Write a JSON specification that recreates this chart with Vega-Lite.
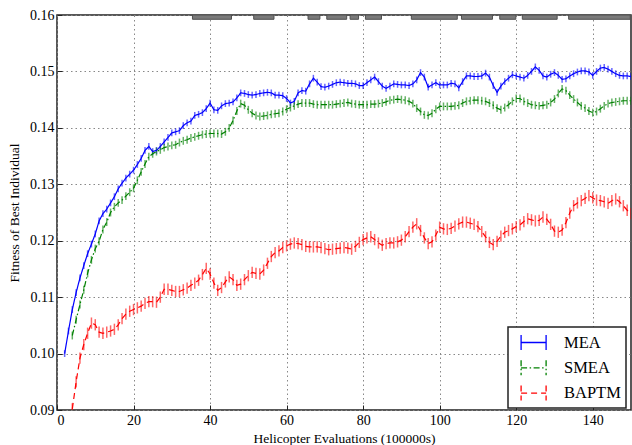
{
"$schema":"https://vega.github.io/schema/vega-lite/v6.json",
"width":574,"height":395,
"autosize":"none",
"padding":{"left":57,"top":15,"right":1,"bottom":35},
"background":"white",
"datasets":{
"sig":[{"a":35.4,"b":45.6},{"a":51.4,"b":56.7},{"a":65.6,"b":68.7},{"a":70.5,"b":75.7},{"a":76.6,"b":78.8},{"a":80.6,"b":84.8},{"a":92.6,"b":104.6},{"a":105.7,"b":113.8},{"a":115.7,"b":119.9},{"a":121.6,"b":130.7},{"a":133.7,"b":149.8}],
"runs":[
{"s":"MEA","x":2,"y":0.1000,"e":6e-4},{"s":"MEA","x":3,"y":0.1040,"e":6e-4},{"s":"MEA","x":4,"y":0.1078,"e":6e-4},{"s":"MEA","x":5,"y":0.1108,"e":6e-4},{"s":"MEA","x":6,"y":0.1134,"e":6e-4},{"s":"MEA","x":7,"y":0.1156,"e":6e-4},{"s":"MEA","x":8,"y":0.1177,"e":6e-4},{"s":"MEA","x":9,"y":0.1194,"e":6e-4},{"s":"MEA","x":10,"y":0.1212,"e":6e-4},
{"s":"MEA","x":11,"y":0.1235,"e":6e-4},{"s":"MEA","x":12,"y":0.1248,"e":6e-4},{"s":"MEA","x":13,"y":0.1256,"e":6e-4},{"s":"MEA","x":14,"y":0.1267,"e":6e-4},{"s":"MEA","x":15,"y":0.1278,"e":6e-4},{"s":"MEA","x":16,"y":0.1292,"e":6e-4},{"s":"MEA","x":17,"y":0.1302,"e":6e-4},{"s":"MEA","x":18,"y":0.1311,"e":6e-4},{"s":"MEA","x":19,"y":0.1318,"e":6e-4},{"s":"MEA","x":20,"y":0.1325,"e":6e-4},
{"s":"MEA","x":21,"y":0.1335,"e":6e-4},{"s":"MEA","x":22,"y":0.1346,"e":6e-4},{"s":"MEA","x":23,"y":0.1360,"e":6e-4},{"s":"MEA","x":24,"y":0.1367,"e":6e-4},{"s":"MEA","x":25,"y":0.1358,"e":6e-4},{"s":"MEA","x":26,"y":0.1360,"e":6e-4},{"s":"MEA","x":27,"y":0.1367,"e":6e-4},{"s":"MEA","x":28,"y":0.1375,"e":6e-4},{"s":"MEA","x":29,"y":0.1383,"e":6e-4},{"s":"MEA","x":30,"y":0.1391,"e":6e-4},
{"s":"MEA","x":31,"y":0.1393,"e":6e-4},{"s":"MEA","x":32,"y":0.1395,"e":6e-4},{"s":"MEA","x":33,"y":0.1404,"e":6e-4},{"s":"MEA","x":34,"y":0.1409,"e":6e-4},{"s":"MEA","x":35,"y":0.1412,"e":6e-4},{"s":"MEA","x":36,"y":0.1422,"e":6e-4},{"s":"MEA","x":37,"y":0.1424,"e":6e-4},{"s":"MEA","x":38,"y":0.1427,"e":6e-4},{"s":"MEA","x":39,"y":0.1434,"e":6e-4},{"s":"MEA","x":40,"y":0.1444,"e":6e-4},
{"s":"MEA","x":41,"y":0.1432,"e":6e-4},{"s":"MEA","x":42,"y":0.1431,"e":6e-4},{"s":"MEA","x":43,"y":0.1439,"e":6e-4},{"s":"MEA","x":44,"y":0.1443,"e":6e-4},{"s":"MEA","x":45,"y":0.1444,"e":6e-4},{"s":"MEA","x":46,"y":0.1446,"e":6e-4},{"s":"MEA","x":47,"y":0.1453,"e":6e-4},{"s":"MEA","x":48,"y":0.1462,"e":6e-4},{"s":"MEA","x":49,"y":0.1461,"e":6e-4},{"s":"MEA","x":50,"y":0.1459,"e":6e-4},
{"s":"MEA","x":51,"y":0.1458,"e":6e-4},{"s":"MEA","x":52,"y":0.1459,"e":6e-4},{"s":"MEA","x":53,"y":0.1461,"e":6e-4},{"s":"MEA","x":54,"y":0.1462,"e":6e-4},{"s":"MEA","x":55,"y":0.1463,"e":6e-4},{"s":"MEA","x":56,"y":0.1462,"e":6e-4},{"s":"MEA","x":57,"y":0.1458,"e":6e-4},{"s":"MEA","x":58,"y":0.1458,"e":6e-4},{"s":"MEA","x":59,"y":0.1457,"e":6e-4},{"s":"MEA","x":60,"y":0.1452,"e":6e-4},
{"s":"MEA","x":61,"y":0.1444,"e":6e-4},{"s":"MEA","x":62,"y":0.1447,"e":6e-4},{"s":"MEA","x":63,"y":0.1462,"e":6e-4},{"s":"MEA","x":64,"y":0.1466,"e":6e-4},{"s":"MEA","x":65,"y":0.1465,"e":6e-4},{"s":"MEA","x":66,"y":0.1478,"e":6e-4},{"s":"MEA","x":67,"y":0.1488,"e":6e-4},{"s":"MEA","x":68,"y":0.1481,"e":6e-4},{"s":"MEA","x":69,"y":0.1473,"e":6e-4},{"s":"MEA","x":70,"y":0.1472,"e":6e-4},
{"s":"MEA","x":71,"y":0.1474,"e":6e-4},{"s":"MEA","x":72,"y":0.1477,"e":6e-4},{"s":"MEA","x":73,"y":0.1480,"e":6e-4},{"s":"MEA","x":74,"y":0.1481,"e":6e-4},{"s":"MEA","x":75,"y":0.1480,"e":6e-4},{"s":"MEA","x":76,"y":0.1479,"e":6e-4},{"s":"MEA","x":77,"y":0.1479,"e":6e-4},{"s":"MEA","x":78,"y":0.1478,"e":6e-4},{"s":"MEA","x":79,"y":0.1475,"e":6e-4},{"s":"MEA","x":80,"y":0.1475,"e":6e-4},
{"s":"MEA","x":81,"y":0.1480,"e":6e-4},{"s":"MEA","x":82,"y":0.1485,"e":6e-4},{"s":"MEA","x":83,"y":0.1490,"e":6e-4},{"s":"MEA","x":84,"y":0.1482,"e":6e-4},{"s":"MEA","x":85,"y":0.1474,"e":6e-4},{"s":"MEA","x":86,"y":0.1470,"e":6e-4},{"s":"MEA","x":87,"y":0.1474,"e":6e-4},{"s":"MEA","x":88,"y":0.1478,"e":6e-4},{"s":"MEA","x":89,"y":0.1477,"e":6e-4},{"s":"MEA","x":90,"y":0.1476,"e":6e-4},
{"s":"MEA","x":91,"y":0.1476,"e":6e-4},{"s":"MEA","x":92,"y":0.1475,"e":6e-4},{"s":"MEA","x":93,"y":0.1478,"e":6e-4},{"s":"MEA","x":94,"y":0.1485,"e":6e-4},{"s":"MEA","x":95,"y":0.1498,"e":6e-4},{"s":"MEA","x":96,"y":0.1490,"e":6e-4},{"s":"MEA","x":97,"y":0.1472,"e":6e-4},{"s":"MEA","x":98,"y":0.1476,"e":6e-4},{"s":"MEA","x":99,"y":0.1480,"e":6e-4},{"s":"MEA","x":100,"y":0.1476,"e":6e-4},
{"s":"MEA","x":101,"y":0.1476,"e":6e-4},{"s":"MEA","x":102,"y":0.1476,"e":6e-4},{"s":"MEA","x":103,"y":0.1479,"e":6e-4},{"s":"MEA","x":104,"y":0.1478,"e":6e-4},{"s":"MEA","x":105,"y":0.1471,"e":6e-4},{"s":"MEA","x":106,"y":0.1482,"e":6e-4},{"s":"MEA","x":107,"y":0.1492,"e":6e-4},{"s":"MEA","x":108,"y":0.1492,"e":6e-4},{"s":"MEA","x":109,"y":0.1491,"e":6e-4},{"s":"MEA","x":110,"y":0.1491,"e":6e-4},
{"s":"MEA","x":111,"y":0.1492,"e":6e-4},{"s":"MEA","x":112,"y":0.1497,"e":6e-4},{"s":"MEA","x":113,"y":0.1490,"e":6e-4},{"s":"MEA","x":114,"y":0.1475,"e":6e-4},{"s":"MEA","x":115,"y":0.1463,"e":6e-4},{"s":"MEA","x":116,"y":0.1474,"e":6e-4},{"s":"MEA","x":117,"y":0.1482,"e":6e-4},{"s":"MEA","x":118,"y":0.1488,"e":6e-4},{"s":"MEA","x":119,"y":0.1494,"e":6e-4},{"s":"MEA","x":120,"y":0.1492,"e":6e-4},
{"s":"MEA","x":121,"y":0.1490,"e":6e-4},{"s":"MEA","x":122,"y":0.1488,"e":6e-4},{"s":"MEA","x":123,"y":0.1493,"e":6e-4},{"s":"MEA","x":124,"y":0.1500,"e":6e-4},{"s":"MEA","x":125,"y":0.1508,"e":6e-4},{"s":"MEA","x":126,"y":0.1502,"e":6e-4},{"s":"MEA","x":127,"y":0.1492,"e":6e-4},{"s":"MEA","x":128,"y":0.1490,"e":6e-4},{"s":"MEA","x":129,"y":0.1495,"e":6e-4},{"s":"MEA","x":130,"y":0.1498,"e":6e-4},
{"s":"MEA","x":131,"y":0.1493,"e":6e-4},{"s":"MEA","x":132,"y":0.1486,"e":6e-4},{"s":"MEA","x":133,"y":0.1487,"e":6e-4},{"s":"MEA","x":134,"y":0.1492,"e":6e-4},{"s":"MEA","x":135,"y":0.1496,"e":6e-4},{"s":"MEA","x":136,"y":0.1499,"e":6e-4},{"s":"MEA","x":137,"y":0.1501,"e":6e-4},{"s":"MEA","x":138,"y":0.1501,"e":6e-4},{"s":"MEA","x":139,"y":0.1499,"e":6e-4},{"s":"MEA","x":140,"y":0.1493,"e":6e-4},
{"s":"MEA","x":141,"y":0.1500,"e":6e-4},{"s":"MEA","x":142,"y":0.1506,"e":6e-4},{"s":"MEA","x":143,"y":0.1507,"e":6e-4},{"s":"MEA","x":144,"y":0.1504,"e":6e-4},{"s":"MEA","x":145,"y":0.1500,"e":6e-4},{"s":"MEA","x":146,"y":0.1496,"e":6e-4},{"s":"MEA","x":147,"y":0.1493,"e":6e-4},{"s":"MEA","x":148,"y":0.1492,"e":6e-4},{"s":"MEA","x":149,"y":0.1492,"e":6e-4},{"s":"MEA","x":150,"y":0.1491,"e":6e-4},
{"s":"SMEA","x":4,"y":0.1032,"e":7e-4},{"s":"SMEA","x":5,"y":0.1060,"e":7e-4},{"s":"SMEA","x":6,"y":0.1087,"e":7e-4},{"s":"SMEA","x":7,"y":0.1113,"e":7e-4},{"s":"SMEA","x":8,"y":0.1142,"e":7e-4},{"s":"SMEA","x":9,"y":0.1166,"e":7e-4},{"s":"SMEA","x":10,"y":0.1186,"e":7e-4},
{"s":"SMEA","x":11,"y":0.1199,"e":7e-4},{"s":"SMEA","x":12,"y":0.1220,"e":7e-4},{"s":"SMEA","x":13,"y":0.1233,"e":7e-4},{"s":"SMEA","x":14,"y":0.1250,"e":7e-4},{"s":"SMEA","x":15,"y":0.1260,"e":7e-4},{"s":"SMEA","x":16,"y":0.1267,"e":7e-4},{"s":"SMEA","x":17,"y":0.1272,"e":7e-4},{"s":"SMEA","x":18,"y":0.1279,"e":7e-4},{"s":"SMEA","x":19,"y":0.1286,"e":7e-4},{"s":"SMEA","x":20,"y":0.1293,"e":7e-4},
{"s":"SMEA","x":21,"y":0.1307,"e":7e-4},{"s":"SMEA","x":22,"y":0.1322,"e":7e-4},{"s":"SMEA","x":23,"y":0.1336,"e":7e-4},{"s":"SMEA","x":24,"y":0.1349,"e":7e-4},{"s":"SMEA","x":25,"y":0.1354,"e":7e-4},{"s":"SMEA","x":26,"y":0.1358,"e":7e-4},{"s":"SMEA","x":27,"y":0.1361,"e":7e-4},{"s":"SMEA","x":28,"y":0.1365,"e":7e-4},{"s":"SMEA","x":29,"y":0.1367,"e":7e-4},{"s":"SMEA","x":30,"y":0.1369,"e":7e-4},
{"s":"SMEA","x":31,"y":0.1370,"e":7e-4},{"s":"SMEA","x":32,"y":0.1374,"e":7e-4},{"s":"SMEA","x":33,"y":0.1377,"e":7e-4},{"s":"SMEA","x":34,"y":0.1379,"e":7e-4},{"s":"SMEA","x":35,"y":0.1382,"e":7e-4},{"s":"SMEA","x":36,"y":0.1384,"e":7e-4},{"s":"SMEA","x":37,"y":0.1386,"e":7e-4},{"s":"SMEA","x":38,"y":0.1388,"e":7e-4},{"s":"SMEA","x":39,"y":0.1389,"e":7e-4},{"s":"SMEA","x":40,"y":0.1390,"e":7e-4},
{"s":"SMEA","x":41,"y":0.1390,"e":7e-4},{"s":"SMEA","x":42,"y":0.1390,"e":7e-4},{"s":"SMEA","x":43,"y":0.1389,"e":7e-4},{"s":"SMEA","x":44,"y":0.1393,"e":7e-4},{"s":"SMEA","x":45,"y":0.1400,"e":7e-4},{"s":"SMEA","x":46,"y":0.1413,"e":7e-4},{"s":"SMEA","x":47,"y":0.1430,"e":7e-4},{"s":"SMEA","x":48,"y":0.1443,"e":7e-4},{"s":"SMEA","x":49,"y":0.1440,"e":7e-4},{"s":"SMEA","x":50,"y":0.1432,"e":7e-4},
{"s":"SMEA","x":51,"y":0.1426,"e":7e-4},{"s":"SMEA","x":52,"y":0.1422,"e":7e-4},{"s":"SMEA","x":53,"y":0.1420,"e":7e-4},{"s":"SMEA","x":54,"y":0.1421,"e":7e-4},{"s":"SMEA","x":55,"y":0.1422,"e":7e-4},{"s":"SMEA","x":56,"y":0.1424,"e":7e-4},{"s":"SMEA","x":57,"y":0.1425,"e":7e-4},{"s":"SMEA","x":58,"y":0.1426,"e":7e-4},{"s":"SMEA","x":59,"y":0.1429,"e":7e-4},{"s":"SMEA","x":60,"y":0.1433,"e":7e-4},
{"s":"SMEA","x":61,"y":0.1436,"e":7e-4},{"s":"SMEA","x":62,"y":0.1439,"e":7e-4},{"s":"SMEA","x":63,"y":0.1442,"e":7e-4},{"s":"SMEA","x":64,"y":0.1444,"e":7e-4},{"s":"SMEA","x":65,"y":0.1444,"e":7e-4},{"s":"SMEA","x":66,"y":0.1444,"e":7e-4},{"s":"SMEA","x":67,"y":0.1442,"e":7e-4},{"s":"SMEA","x":68,"y":0.1441,"e":7e-4},{"s":"SMEA","x":69,"y":0.1441,"e":7e-4},{"s":"SMEA","x":70,"y":0.1441,"e":7e-4},
{"s":"SMEA","x":71,"y":0.1441,"e":7e-4},{"s":"SMEA","x":72,"y":0.1441,"e":7e-4},{"s":"SMEA","x":73,"y":0.1442,"e":7e-4},{"s":"SMEA","x":74,"y":0.1443,"e":7e-4},{"s":"SMEA","x":75,"y":0.1444,"e":7e-4},{"s":"SMEA","x":76,"y":0.1445,"e":7e-4},{"s":"SMEA","x":77,"y":0.1443,"e":7e-4},{"s":"SMEA","x":78,"y":0.1442,"e":7e-4},{"s":"SMEA","x":79,"y":0.1441,"e":7e-4},{"s":"SMEA","x":80,"y":0.1441,"e":7e-4},
{"s":"SMEA","x":81,"y":0.1441,"e":7e-4},{"s":"SMEA","x":82,"y":0.1442,"e":7e-4},{"s":"SMEA","x":83,"y":0.1442,"e":7e-4},{"s":"SMEA","x":84,"y":0.1443,"e":7e-4},{"s":"SMEA","x":85,"y":0.1444,"e":7e-4},{"s":"SMEA","x":86,"y":0.1446,"e":7e-4},{"s":"SMEA","x":87,"y":0.1449,"e":7e-4},{"s":"SMEA","x":88,"y":0.1450,"e":7e-4},{"s":"SMEA","x":89,"y":0.1451,"e":7e-4},{"s":"SMEA","x":90,"y":0.1450,"e":7e-4},
{"s":"SMEA","x":91,"y":0.1449,"e":7e-4},{"s":"SMEA","x":92,"y":0.1447,"e":7e-4},{"s":"SMEA","x":93,"y":0.1443,"e":7e-4},{"s":"SMEA","x":94,"y":0.1435,"e":7e-4},{"s":"SMEA","x":95,"y":0.1429,"e":7e-4},{"s":"SMEA","x":96,"y":0.1423,"e":7e-4},{"s":"SMEA","x":97,"y":0.1422,"e":7e-4},{"s":"SMEA","x":98,"y":0.1426,"e":7e-4},{"s":"SMEA","x":99,"y":0.1433,"e":7e-4},{"s":"SMEA","x":100,"y":0.1438,"e":7e-4},
{"s":"SMEA","x":101,"y":0.1438,"e":7e-4},{"s":"SMEA","x":102,"y":0.1438,"e":7e-4},{"s":"SMEA","x":103,"y":0.1438,"e":7e-4},{"s":"SMEA","x":104,"y":0.1439,"e":7e-4},{"s":"SMEA","x":105,"y":0.1440,"e":7e-4},{"s":"SMEA","x":106,"y":0.1444,"e":7e-4},{"s":"SMEA","x":107,"y":0.1447,"e":7e-4},{"s":"SMEA","x":108,"y":0.1448,"e":7e-4},{"s":"SMEA","x":109,"y":0.1449,"e":7e-4},{"s":"SMEA","x":110,"y":0.1449,"e":7e-4},
{"s":"SMEA","x":111,"y":0.1448,"e":7e-4},{"s":"SMEA","x":112,"y":0.1447,"e":7e-4},{"s":"SMEA","x":113,"y":0.1444,"e":7e-4},{"s":"SMEA","x":114,"y":0.1440,"e":7e-4},{"s":"SMEA","x":115,"y":0.1435,"e":7e-4},{"s":"SMEA","x":116,"y":0.1432,"e":7e-4},{"s":"SMEA","x":117,"y":0.1436,"e":7e-4},{"s":"SMEA","x":118,"y":0.1441,"e":7e-4},{"s":"SMEA","x":119,"y":0.1447,"e":7e-4},{"s":"SMEA","x":120,"y":0.1452,"e":7e-4},
{"s":"SMEA","x":121,"y":0.1452,"e":7e-4},{"s":"SMEA","x":122,"y":0.1447,"e":7e-4},{"s":"SMEA","x":123,"y":0.1444,"e":7e-4},{"s":"SMEA","x":124,"y":0.1441,"e":7e-4},{"s":"SMEA","x":125,"y":0.1440,"e":7e-4},{"s":"SMEA","x":126,"y":0.1439,"e":7e-4},{"s":"SMEA","x":127,"y":0.1440,"e":7e-4},{"s":"SMEA","x":128,"y":0.1441,"e":7e-4},{"s":"SMEA","x":129,"y":0.1445,"e":7e-4},{"s":"SMEA","x":130,"y":0.1451,"e":7e-4},
{"s":"SMEA","x":131,"y":0.1461,"e":7e-4},{"s":"SMEA","x":132,"y":0.1469,"e":7e-4},{"s":"SMEA","x":133,"y":0.1466,"e":7e-4},{"s":"SMEA","x":134,"y":0.1458,"e":7e-4},{"s":"SMEA","x":135,"y":0.1451,"e":7e-4},{"s":"SMEA","x":136,"y":0.1445,"e":7e-4},{"s":"SMEA","x":137,"y":0.1439,"e":7e-4},{"s":"SMEA","x":138,"y":0.1435,"e":7e-4},{"s":"SMEA","x":139,"y":0.1430,"e":7e-4},{"s":"SMEA","x":140,"y":0.1427,"e":7e-4},
{"s":"SMEA","x":141,"y":0.1429,"e":7e-4},{"s":"SMEA","x":142,"y":0.1434,"e":7e-4},{"s":"SMEA","x":143,"y":0.1439,"e":7e-4},{"s":"SMEA","x":144,"y":0.1443,"e":7e-4},{"s":"SMEA","x":145,"y":0.1445,"e":7e-4},{"s":"SMEA","x":146,"y":0.1446,"e":7e-4},{"s":"SMEA","x":147,"y":0.1447,"e":7e-4},{"s":"SMEA","x":148,"y":0.1448,"e":7e-4},{"s":"SMEA","x":149,"y":0.1448,"e":7e-4},{"s":"SMEA","x":150,"y":0.1448,"e":7e-4},
{"s":"BAPTM","x":4,"y":0.0902,"e":1e-3},{"s":"BAPTM","x":5,"y":0.0950,"e":1e-3},{"s":"BAPTM","x":6,"y":0.0992,"e":1e-3},{"s":"BAPTM","x":7,"y":0.1016,"e":1e-3},{"s":"BAPTM","x":8,"y":0.1036,"e":1e-3},{"s":"BAPTM","x":9,"y":0.1054,"e":1e-3},{"s":"BAPTM","x":10,"y":0.1051,"e":1e-3},
{"s":"BAPTM","x":11,"y":0.1038,"e":1e-3},{"s":"BAPTM","x":12,"y":0.1036,"e":1e-3},{"s":"BAPTM","x":13,"y":0.1038,"e":1e-3},{"s":"BAPTM","x":14,"y":0.1040,"e":1e-3},{"s":"BAPTM","x":15,"y":0.1043,"e":1e-3},{"s":"BAPTM","x":16,"y":0.1051,"e":1e-3},{"s":"BAPTM","x":17,"y":0.1062,"e":1e-3},{"s":"BAPTM","x":18,"y":0.1070,"e":1e-3},{"s":"BAPTM","x":19,"y":0.1075,"e":1e-3},{"s":"BAPTM","x":20,"y":0.1078,"e":1e-3},
{"s":"BAPTM","x":21,"y":0.1081,"e":1e-3},{"s":"BAPTM","x":22,"y":0.1084,"e":1e-3},{"s":"BAPTM","x":23,"y":0.1089,"e":1e-3},{"s":"BAPTM","x":24,"y":0.1092,"e":1e-3},{"s":"BAPTM","x":25,"y":0.1092,"e":1e-3},{"s":"BAPTM","x":26,"y":0.1091,"e":1e-3},{"s":"BAPTM","x":27,"y":0.1100,"e":1e-3},{"s":"BAPTM","x":28,"y":0.1114,"e":1e-3},{"s":"BAPTM","x":29,"y":0.1114,"e":1e-3},{"s":"BAPTM","x":30,"y":0.1112,"e":1e-3},
{"s":"BAPTM","x":31,"y":0.1110,"e":1e-3},{"s":"BAPTM","x":32,"y":0.1110,"e":1e-3},{"s":"BAPTM","x":33,"y":0.1113,"e":1e-3},{"s":"BAPTM","x":34,"y":0.1116,"e":1e-3},{"s":"BAPTM","x":35,"y":0.1121,"e":1e-3},{"s":"BAPTM","x":36,"y":0.1125,"e":1e-3},{"s":"BAPTM","x":37,"y":0.1130,"e":1e-3},{"s":"BAPTM","x":38,"y":0.1140,"e":1e-3},{"s":"BAPTM","x":39,"y":0.1151,"e":1e-3},{"s":"BAPTM","x":40,"y":0.1141,"e":1e-3},
{"s":"BAPTM","x":41,"y":0.1125,"e":1e-3},{"s":"BAPTM","x":42,"y":0.1112,"e":1e-3},{"s":"BAPTM","x":43,"y":0.1117,"e":1e-3},{"s":"BAPTM","x":44,"y":0.1127,"e":1e-3},{"s":"BAPTM","x":45,"y":0.1136,"e":1e-3},{"s":"BAPTM","x":46,"y":0.1131,"e":1e-3},{"s":"BAPTM","x":47,"y":0.1121,"e":1e-3},{"s":"BAPTM","x":48,"y":0.1123,"e":1e-3},{"s":"BAPTM","x":49,"y":0.1131,"e":1e-3},{"s":"BAPTM","x":50,"y":0.1138,"e":1e-3},
{"s":"BAPTM","x":51,"y":0.1144,"e":1e-3},{"s":"BAPTM","x":52,"y":0.1142,"e":1e-3},{"s":"BAPTM","x":53,"y":0.1141,"e":1e-3},{"s":"BAPTM","x":54,"y":0.1148,"e":1e-3},{"s":"BAPTM","x":55,"y":0.1160,"e":1e-3},{"s":"BAPTM","x":56,"y":0.1172,"e":1e-3},{"s":"BAPTM","x":57,"y":0.1179,"e":1e-3},{"s":"BAPTM","x":58,"y":0.1182,"e":1e-3},{"s":"BAPTM","x":59,"y":0.1188,"e":1e-3},{"s":"BAPTM","x":60,"y":0.1191,"e":1e-3},
{"s":"BAPTM","x":61,"y":0.1194,"e":1e-3},{"s":"BAPTM","x":62,"y":0.1196,"e":1e-3},{"s":"BAPTM","x":63,"y":0.1195,"e":1e-3},{"s":"BAPTM","x":64,"y":0.1193,"e":1e-3},{"s":"BAPTM","x":65,"y":0.1190,"e":1e-3},{"s":"BAPTM","x":66,"y":0.1189,"e":1e-3},{"s":"BAPTM","x":67,"y":0.1189,"e":1e-3},{"s":"BAPTM","x":68,"y":0.1189,"e":1e-3},{"s":"BAPTM","x":69,"y":0.1188,"e":1e-3},{"s":"BAPTM","x":70,"y":0.1186,"e":1e-3},
{"s":"BAPTM","x":71,"y":0.1184,"e":1e-3},{"s":"BAPTM","x":72,"y":0.1185,"e":1e-3},{"s":"BAPTM","x":73,"y":0.1186,"e":1e-3},{"s":"BAPTM","x":74,"y":0.1187,"e":1e-3},{"s":"BAPTM","x":75,"y":0.1188,"e":1e-3},{"s":"BAPTM","x":76,"y":0.1187,"e":1e-3},{"s":"BAPTM","x":77,"y":0.1185,"e":1e-3},{"s":"BAPTM","x":78,"y":0.1190,"e":1e-3},{"s":"BAPTM","x":79,"y":0.1197,"e":1e-3},{"s":"BAPTM","x":80,"y":0.1202,"e":1e-3},
{"s":"BAPTM","x":81,"y":0.1205,"e":1e-3},{"s":"BAPTM","x":82,"y":0.1207,"e":1e-3},{"s":"BAPTM","x":83,"y":0.1202,"e":1e-3},{"s":"BAPTM","x":84,"y":0.1196,"e":1e-3},{"s":"BAPTM","x":85,"y":0.1192,"e":1e-3},{"s":"BAPTM","x":86,"y":0.1195,"e":1e-3},{"s":"BAPTM","x":87,"y":0.1196,"e":1e-3},{"s":"BAPTM","x":88,"y":0.1196,"e":1e-3},{"s":"BAPTM","x":89,"y":0.1198,"e":1e-3},{"s":"BAPTM","x":90,"y":0.1201,"e":1e-3},
{"s":"BAPTM","x":91,"y":0.1207,"e":1e-3},{"s":"BAPTM","x":92,"y":0.1216,"e":1e-3},{"s":"BAPTM","x":93,"y":0.1224,"e":1e-3},{"s":"BAPTM","x":94,"y":0.1230,"e":1e-3},{"s":"BAPTM","x":95,"y":0.1218,"e":1e-3},{"s":"BAPTM","x":96,"y":0.1205,"e":1e-3},{"s":"BAPTM","x":97,"y":0.1195,"e":1e-3},{"s":"BAPTM","x":98,"y":0.1198,"e":1e-3},{"s":"BAPTM","x":99,"y":0.1210,"e":1e-3},{"s":"BAPTM","x":100,"y":0.1224,"e":1e-3},
{"s":"BAPTM","x":101,"y":0.1221,"e":1e-3},{"s":"BAPTM","x":102,"y":0.1220,"e":1e-3},{"s":"BAPTM","x":103,"y":0.1222,"e":1e-3},{"s":"BAPTM","x":104,"y":0.1226,"e":1e-3},{"s":"BAPTM","x":105,"y":0.1230,"e":1e-3},{"s":"BAPTM","x":106,"y":0.1233,"e":1e-3},{"s":"BAPTM","x":107,"y":0.1233,"e":1e-3},{"s":"BAPTM","x":108,"y":0.1231,"e":1e-3},{"s":"BAPTM","x":109,"y":0.1229,"e":1e-3},{"s":"BAPTM","x":110,"y":0.1225,"e":1e-3},
{"s":"BAPTM","x":111,"y":0.1216,"e":1e-3},{"s":"BAPTM","x":112,"y":0.1207,"e":1e-3},{"s":"BAPTM","x":113,"y":0.1197,"e":1e-3},{"s":"BAPTM","x":114,"y":0.1193,"e":1e-3},{"s":"BAPTM","x":115,"y":0.1199,"e":1e-3},{"s":"BAPTM","x":116,"y":0.1208,"e":1e-3},{"s":"BAPTM","x":117,"y":0.1215,"e":1e-3},{"s":"BAPTM","x":118,"y":0.1218,"e":1e-3},{"s":"BAPTM","x":119,"y":0.1221,"e":1e-3},{"s":"BAPTM","x":120,"y":0.1225,"e":1e-3},
{"s":"BAPTM","x":121,"y":0.1228,"e":1e-3},{"s":"BAPTM","x":122,"y":0.1234,"e":1e-3},{"s":"BAPTM","x":123,"y":0.1239,"e":1e-3},{"s":"BAPTM","x":124,"y":0.1237,"e":1e-3},{"s":"BAPTM","x":125,"y":0.1235,"e":1e-3},{"s":"BAPTM","x":126,"y":0.1236,"e":1e-3},{"s":"BAPTM","x":127,"y":0.1242,"e":1e-3},{"s":"BAPTM","x":128,"y":0.1238,"e":1e-3},{"s":"BAPTM","x":129,"y":0.1229,"e":1e-3},{"s":"BAPTM","x":130,"y":0.1217,"e":1e-3},
{"s":"BAPTM","x":131,"y":0.1215,"e":1e-3},{"s":"BAPTM","x":132,"y":0.1219,"e":1e-3},{"s":"BAPTM","x":133,"y":0.1232,"e":1e-3},{"s":"BAPTM","x":134,"y":0.1249,"e":1e-3},{"s":"BAPTM","x":135,"y":0.1262,"e":1e-3},{"s":"BAPTM","x":136,"y":0.1267,"e":1e-3},{"s":"BAPTM","x":137,"y":0.1271,"e":1e-3},{"s":"BAPTM","x":138,"y":0.1275,"e":1e-3},{"s":"BAPTM","x":139,"y":0.1280,"e":1e-3},{"s":"BAPTM","x":140,"y":0.1276,"e":1e-3},
{"s":"BAPTM","x":141,"y":0.1272,"e":1e-3},{"s":"BAPTM","x":142,"y":0.1271,"e":1e-3},{"s":"BAPTM","x":143,"y":0.1269,"e":1e-3},{"s":"BAPTM","x":144,"y":0.1266,"e":1e-3},{"s":"BAPTM","x":145,"y":0.1271,"e":1e-3},{"s":"BAPTM","x":146,"y":0.1274,"e":1e-3},{"s":"BAPTM","x":147,"y":0.1269,"e":1e-3},{"s":"BAPTM","x":148,"y":0.1262,"e":1e-3},{"s":"BAPTM","x":149,"y":0.1254,"e":1e-3},{"s":"BAPTM","x":150,"y":0.1248,"e":1e-3}
]},
"layer":[
{"data":{"name":"sig"},
 "mark":{"type":"rect","fill":"#7a7a7a","stroke":"#505050","strokeWidth":1,"clip":true},
 "encoding":{
  "x":{"field":"a","type":"quantitative","title":"Helicopter Evaluations (100000s)","scale":{"domain":[0,150],"nice":false},
   "axis":{"values":[0,20,40,60,80,100,120,140],"labelPadding":8,"titlePadding":4}},
  "x2":{"field":"b"},
  "y":{"datum":0.16,"type":"quantitative","title":"Fitness of Best Individual","scale":{"domain":[0.09,0.16],"nice":false,"zero":false},
   "axis":{"values":[0.09,0.10,0.11,0.12,0.13,0.14,0.15,0.16],"format":".2f","labelPadding":8,"titlePadding":8}},
  "y2":{"datum":0.15924}
 }},
{"data":{"name":"runs"},
 "mark":{"type":"errorbar","thickness":1.5,"opacity":0.6,"clip":true},
 "encoding":{
  "x":{"field":"x","type":"quantitative","title":"Helicopter Evaluations (100000s)"},
  "y":{"field":"y","type":"quantitative","title":"Fitness of Best Individual"},
  "yError":{"field":"e"},
  "color":{"field":"s","type":"nominal","title":null,"scale":{"domain":["MEA","SMEA","BAPTM"],"range":["#0000ff","#008000","#ff0000"]}}
 }},
{"data":{"name":"runs"},
 "mark":{"type":"line","strokeWidth":1.2,"clip":true},
 "encoding":{
  "x":{"field":"x","type":"quantitative","title":"Helicopter Evaluations (100000s)"},
  "y":{"field":"y","type":"quantitative","title":"Fitness of Best Individual"},
  "color":{"field":"s","type":"nominal","title":null,"scale":{"domain":["MEA","SMEA","BAPTM"],"range":["#0000ff","#008000","#ff0000"]}},
  "strokeDash":{"field":"s","type":"nominal","title":null,"scale":{"domain":["MEA","SMEA","BAPTM"],"range":[[1,0],[6,2.5,1.5,2.5],[6,4]]}}
 }}
],
"config":{
 "view":{"stroke":"#222","strokeWidth":1.5},
 "axis":{"domain":false,"grid":true,"gridColor":"#888","gridDash":[1.5,3],"gridWidth":1,"tickColor":"#222","tickSize":-5,"labelFont":"Liberation Serif","labelFontSize":14,"labelColor":"#000","titleFont":"Liberation Serif","titleFontSize":13.5,"titleFontWeight":"normal","titleColor":"#000"},
 "legend":{"orient":"none","legendX":451,"legendY":312,"strokeColor":"#222","strokeWidth":1.5,"fillColor":"white","padding":4.5,"labelFont":"Liberation Serif","labelFontSize":16.5,"labelColor":"#000","symbolType":"M-0.24,-0.75V0.75M-0.24,0H2.26M2.26,-0.75V0.75","symbolSize":400,"symbolStrokeWidth":1.3,"symbolFillColor":"transparent","symbolOpacity":1,"labelOffset":29.5,"rowPadding":3.3}
}
}
